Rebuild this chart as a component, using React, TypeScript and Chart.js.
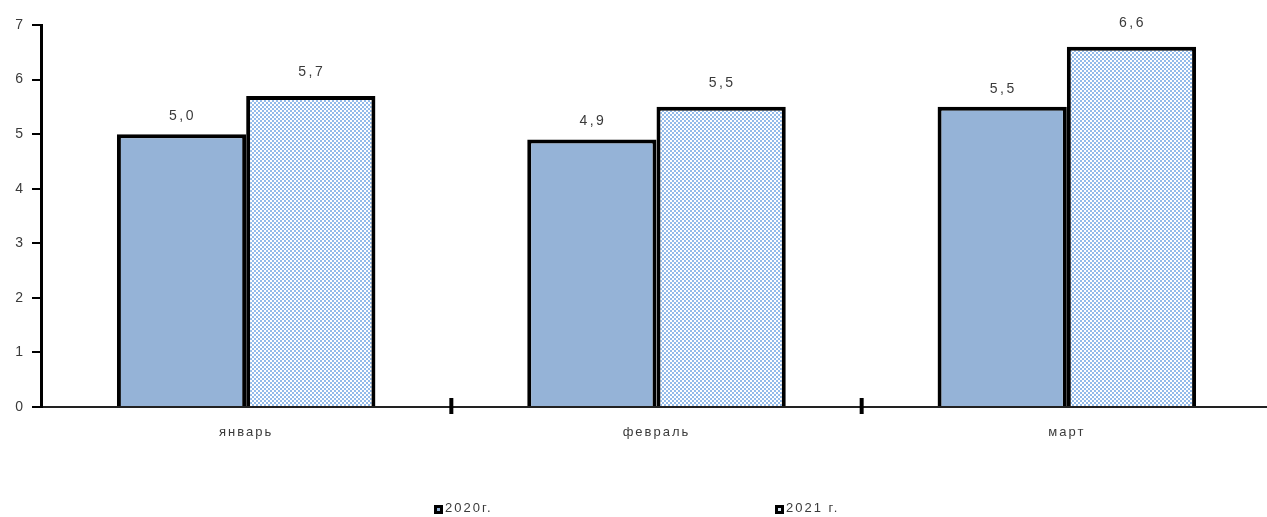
import React, { useEffect, useRef } from 'react';
import { Chart, registerables } from 'chart.js';

Chart.register(...registerables);

const categories = ['январь', 'февраль', 'март'];
const series2020 = [5.0, 4.9, 5.5];
const series2021 = [5.7, 5.5, 6.6];
const yTicks = [0, 1, 2, 3, 4, 5, 6, 7];
const legendLabels = ['2020г.', '2021 г.'];

const FILL_2020 = '#95B3D7';
const CHECK_BLUE = '#93BBEA';
const TEXT = '#3a3a3a';
const FONT = 'Arial, "Liberation Sans", sans-serif';

function makePattern(): CanvasPattern | string {
  const c = document.createElement('canvas');
  c.width = 4;
  c.height = 4;
  const g = c.getContext('2d');
  if (!g) return CHECK_BLUE;
  g.fillStyle = '#ffffff';
  g.fillRect(0, 0, 4, 4);
  g.fillStyle = CHECK_BLUE;
  g.fillRect(0, 0, 2, 2);
  g.fillRect(2, 2, 2, 2);
  const p = g.createPattern(c, 'repeat');
  return p || CHECK_BLUE;
}

const spacingPlugin = {
  id: 'spacing',
  beforeDraw(chart: any) {
    (chart.ctx as any).letterSpacing = '2px';
  },
};

const valueLabelPlugin = {
  id: 'valueLabels',
  afterDatasetsDraw(chart: any) {
    const ctx = chart.ctx;
    ctx.save();
    (ctx as any).letterSpacing = '2.5px';
    ctx.font = '14px ' + FONT;
    ctx.fillStyle = TEXT;
    ctx.textAlign = 'center';
    ctx.textBaseline = 'middle';
    chart.data.datasets.forEach((ds: any, di: number) => {
      const meta = chart.getDatasetMeta(di);
      const off = di === 0 ? 18 : 24;
      meta.data.forEach((bar: any, i: number) => {
        const v = ds.data[i] as number;
        const txt = v.toFixed(1).replace('.', ',');
        ctx.fillText(txt, bar.x + 1, bar.y - off);
      });
    });
    ctx.restore();
  },
};

const catTickPlugin = {
  id: 'catTicks',
  afterDraw(chart: any) {
    const xs = chart.scales.x;
    const ctx = chart.ctx;
    const bottom = chart.chartArea.bottom;
    ctx.save();
    ctx.strokeStyle = '#000';
    ctx.lineWidth = 4;
    for (let i = 1; i < categories.length; i++) {
      const x = (xs.getPixelForValue(i - 1) + xs.getPixelForValue(i)) / 2;
      ctx.beginPath();
      ctx.moveTo(x, bottom - 9);
      ctx.lineTo(x, bottom + 7);
      ctx.stroke();
    }
    ctx.restore();
  },
};

export default function App() {
  const ref = useRef<HTMLCanvasElement | null>(null);

  useEffect(() => {
    if (!ref.current) return;
    const chart = new Chart(ref.current, {
      type: 'bar',
      data: {
        labels: categories,
        datasets: [
          {
            label: legendLabels[0],
            data: series2020,
            backgroundColor: FILL_2020,
            borderColor: '#000',
            borderWidth: 4,
            categoryPercentage: 0.63,
            barPercentage: 1,
          },
          {
            label: legendLabels[1],
            data: series2021,
            backgroundColor: makePattern() as any,
            borderColor: '#000',
            borderWidth: 4,
            categoryPercentage: 0.63,
            barPercentage: 1,
          },
        ],
      },
      options: {
        responsive: false,
        animation: false,
        layout: { padding: { left: 0, right: 18, top: 25, bottom: 70 } },
        plugins: {
          legend: { display: false },
          tooltip: { enabled: false },
          title: { display: false },
        },
        scales: {
          x: {
            grid: { display: true, drawOnChartArea: false, drawTicks: false },
            border: { display: true, color: '#222', width: 2 },
            ticks: {
              color: TEXT,
              font: { family: FONT, size: 13 },
              padding: 18,
            },
            afterFit(scale: any) {
              scale.height = 40;
            },
          },
          y: {
            min: 0,
            max: 7,
            afterBuildTicks(scale: any) {
              scale.ticks = yTicks.map((v) => ({ value: v }));
            },
            afterFit(scale: any) {
              scale.width = 41;
            },
            grid: {
              drawOnChartArea: false,
              drawTicks: true,
              tickLength: 9,
              color: '#000',
              lineWidth: 2,
            },
            border: { display: true, color: '#000', width: 3 },
            ticks: {
              color: TEXT,
              font: { family: FONT, size: 14 },
              padding: 7,
            },
          },
        },
      },
      plugins: [spacingPlugin, valueLabelPlugin, catTickPlugin],
    });
    return () => chart.destroy();
  }, []);

  const legendText: React.CSSProperties = {
    font: '13px ' + FONT,
    letterSpacing: '2px',
    color: TEXT,
  };
  const marker = (bg: string): React.CSSProperties => ({
    display: 'inline-block',
    width: 3,
    height: 3,
    border: '3px solid #000',
    background: bg,
    marginRight: 2,
    verticalAlign: '-2px',
  });

  return (
    <div
      style={{
        position: 'fixed',
        left: 0,
        top: 0,
        width: 1267,
        height: 517,
        overflow: 'hidden',
        background: '#fff',
      }}
    >
      <canvas ref={ref} width={1290} height={517} style={{ display: 'block' }} />
      <div style={{ position: 'absolute', left: 434, top: 500, whiteSpace: 'nowrap', ...legendText }}>
        <span style={marker(FILL_2020)} />
        {legendLabels[0]}
      </div>
      <div style={{ position: 'absolute', left: 775, top: 500, whiteSpace: 'nowrap', ...legendText }}>
        <span style={marker('#dbe6f4')} />
        {legendLabels[1]}
      </div>
    </div>
  );
}
